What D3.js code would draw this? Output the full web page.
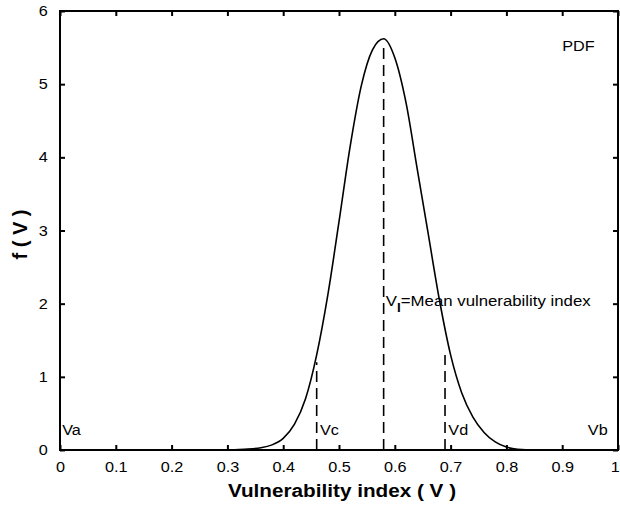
<!DOCTYPE html>
<html>
<head>
<meta charset="utf-8">
<script src="https://cdn.jsdelivr.net/npm/d3@7/dist/d3.min.js"></script>
<style>
  body { margin: 0; background: #fff; }
  text { font-family: "Liberation Sans", Arial, sans-serif; }
</style>
</head>
<body>
<div id="chart"></div>
<script>
// curve
var vIndex = [0, 0.30, 0.33, 0.36, 0.38, 0.40, 0.42, 0.44, 0.46, 0.48, 0.50, 0.52, 0.54, 0.56, 0.58, 0.60, 0.62, 0.64, 0.66, 0.68, 0.70, 0.72, 0.74, 0.76, 0.78, 0.80, 0.82, 0.85, 1.0];
var fV     = [0, 0.00, 0.01, 0.03, 0.07, 0.16, 0.35, 0.70, 1.30, 2.12, 3.12, 4.15, 4.98, 5.47, 5.62, 5.36, 4.75, 3.85, 2.95, 2.05, 1.30, 0.78, 0.45, 0.24, 0.11, 0.04, 0.01, 0.00, 0];

// dashed markers: Vc, mean, Vd
var markerX = [0.46, 0.58, 0.69];
var markerTop = [1.2, 5.5, 1.3];

var xTicks = [0, 0.1, 0.2, 0.3, 0.4, 0.5, 0.6, 0.7, 0.8, 0.9, 1];
var yTicks = [0, 1, 2, 3, 4, 5, 6];

var margin = {top: 11, right: 2, bottom: 59, left: 60},
    width = 620 - margin.left - margin.right,
    height = 509 - margin.top - margin.bottom;

// text in the original is a little wider than Arial
var stretch = "scale(1.12,1)";

var x = d3.scaleLinear().domain([0, 1]).range([0, width]);
var y = d3.scaleLinear().domain([0, 6]).range([height, 0]);

var svg = d3.select("#chart").append("svg")
    .attr("width", 620)
    .attr("height", 509)
  .append("g")
    .attr("transform", "translate(" + margin.left + "," + margin.top + ")");

function fmt(d) { return d === 0 || d === 1 ? String(d) : d.toFixed(1); }

// axes with inward ticks
var xAxis = d3.axisBottom(x).tickValues(xTicks).tickSize(-5).tickPadding(12).tickFormat(fmt);
var xTop = d3.axisTop(x).tickValues(xTicks).tickSize(-5).tickFormat("");
var yAxis = d3.axisLeft(y).tickValues(yTicks).tickSize(-5).tickPadding(11).tickFormat(d3.format("d"));
var yRight = d3.axisRight(y).tickValues(yTicks).tickSize(-5).tickFormat("");

function styleAxis(g) {
  g.select(".domain").remove();
  g.selectAll(".tick line").attr("stroke", "#000").attr("stroke-width", 2);
  g.selectAll(".tick text").attr("fill", "#000").style("font-size", "14.5px").attr("transform", stretch);
}

svg.append("g").attr("transform", "translate(0," + height + ")").call(xAxis).call(styleAxis)
  .selectAll(".tick text").filter(d => d === 1).attr("dx", -3);
svg.append("g").call(xTop).call(styleAxis);
svg.append("g").call(yAxis).call(styleAxis);
svg.append("g").attr("transform", "translate(" + width + ",0)").call(yRight).call(styleAxis);

svg.append("rect")
    .attr("width", width)
    .attr("height", height)
    .attr("fill", "none")
    .attr("stroke", "#000")
    .attr("stroke-width", 2);

// dashed lines
svg.selectAll(".marker")
    .data(markerX)
  .enter().append("line")
    .attr("x1", d => x(d))
    .attr("x2", d => x(d))
    .attr("y1", y(0))
    .attr("y2", (d, i) => y(markerTop[i]))
    .attr("stroke", "#000")
    .attr("stroke-width", 1.6)
    .attr("stroke-dasharray", "11,6");

// PDF curve
var line = d3.line()
    .x(d => x(d[0]))
    .y(d => y(d[1]))
    .curve(d3.curveMonotoneX);

svg.append("path")
    .datum(vIndex.map((v, i) => [v, fV[i]]))
    .attr("d", line)
    .attr("fill", "none")
    .attr("stroke", "#000")
    .attr("stroke-width", 1.6);

// labels in the plot
var labels = [
  {t: "Va", x: 0.004, y: 0.2},
  {t: "Vc", x: 0.466, y: 0.2},
  {t: "Vd", x: 0.696, y: 0.2},
  {t: "Vb", x: 0.946, y: 0.2},
  {t: "PDF", x: 0.900, y: 5.45}
];
svg.selectAll(".lbl")
    .data(labels)
  .enter().append("text")
    .attr("transform", d => "translate(" + x(d.x) + "," + y(d.y) + ") " + stretch)
    .style("font-size", "14.5px")
    .text(d => d.t);

var note = svg.append("text")
    .attr("transform", "translate(" + x(0.584) + "," + y(1.97) + ") " + stretch)
    .style("font-size", "15px");
note.append("tspan").text("V");
note.append("tspan").attr("dy", 6).style("font-size", "12px").style("font-weight", "bold").text("I");
note.append("tspan").attr("dy", -6).text("=Mean vulnerability index");

// axis titles
svg.append("text")
    .attr("transform", "translate(" + (width / 2 + 3) + "," + (height + 47) + ") " + stretch)
    .attr("text-anchor", "middle")
    .style("font-size", "18.5px")
    .style("font-weight", "bold")
    .text("Vulnerability index ( V )");

svg.append("text")
    .attr("transform", "translate(" + (-33) + "," + (height / 2 + 4) + ") rotate(-90)")
    .attr("text-anchor", "middle")
    .style("font-size", "20px")
    .style("font-weight", "bold")
    .text("f ( V )");
</script>
</body>
</html>
